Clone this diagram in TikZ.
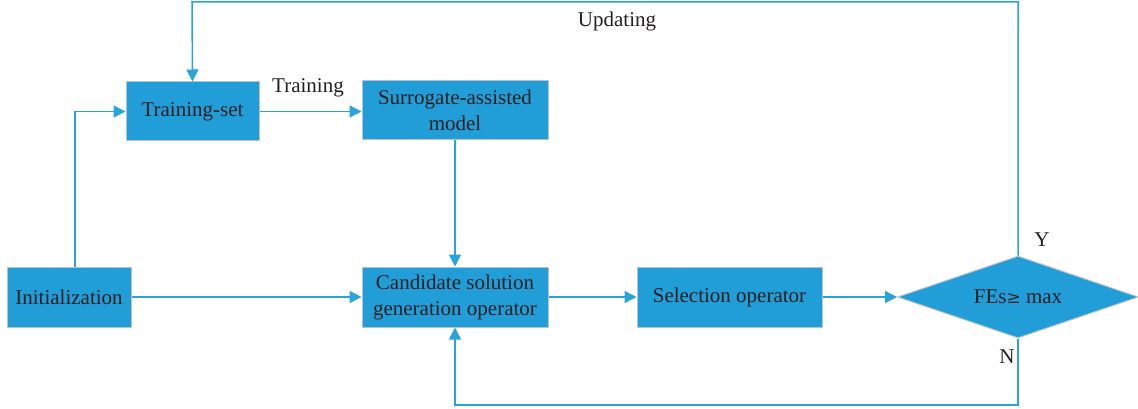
\documentclass[tikz,border=0pt]{standalone}
\usepackage{fontspec}
\setmainfont{Liberation Serif}
\usetikzlibrary{shapes.geometric,arrows.meta}
\definecolor{boxblue}{RGB}{33,157,216}
\definecolor{lineblue}{RGB}{41,163,220}
\definecolor{edgegray}{RGB}{185,195,205}
\definecolor{txt}{RGB}{35,31,32}
\begin{document}
\begin{tikzpicture}[x=1pt,y=-1pt,
  font=\fontsize{21}{26}\selectfont, text=txt,
  blk/.style={draw=edgegray, line width=1pt, fill=boxblue, inner sep=0pt, align=center},
  conn/.style={draw=lineblue, line width=1.5pt, -{Triangle[length=12pt,width=12pt]}},
  lbl/.style={inner sep=0pt}]
\useasboundingbox (0,0) rectangle (1138,409);
\node[blk, minimum width=133pt, minimum height=59pt] (ts) at (192.5,111.5) {Training-set};
\node[blk, minimum width=186pt, minimum height=59pt] (sm) at (455,110.5) {Surrogate-assisted\\model};
\node[blk, minimum width=124pt, minimum height=60pt] (init) at (69,297) {Initialization};
\node[blk, minimum width=186pt, minimum height=60pt] (cand) at (455,297) {Candidate solution\\generation operator};
\node[blk, minimum width=185pt, minimum height=60pt] (sel) at (729.5,297) {Selection operator};
\node[blk, diamond, shape aspect=2.94, minimum width=241pt, minimum height=82pt] (dec) at (1018,297) {FEs{\fontspec{DejaVu Serif}\fontsize{17}{20}\selectfont≥} max};
\coordinate (tl) at (192,2);
\coordinate (tr) at (1018,2);
\coordinate (bl) at (455,405);
\coordinate (br) at (1018,405);
\coordinate (il) at (75,111.5);
% connectors
\draw[conn] (dec.north) -- (tr) -- (tl) -- (ts.north);
\draw[conn] (init.north -| il) -- (il) -- (ts.west);
\draw[conn] (ts.east) -- (sm.west |- ts.east);
\draw[conn] (sm.south) -- (cand.north);
\draw[conn] (init.east) -- (cand.west);
\draw[conn] (cand.east) -- (sel.west);
\draw[conn] (sel.east) -- (dec.west);
\draw[conn] (dec.south) -- (br) -- (bl) -- (cand.south);
% labels
\node[lbl] (lupd) at (617,21) {Updating};
\node[lbl] (ltr) at (308,88) {Training};
\node[lbl] (ly) at (1042,240) {Y};
\node[lbl] (ln) at (1007,357) {N};
\end{tikzpicture}
\end{document}
